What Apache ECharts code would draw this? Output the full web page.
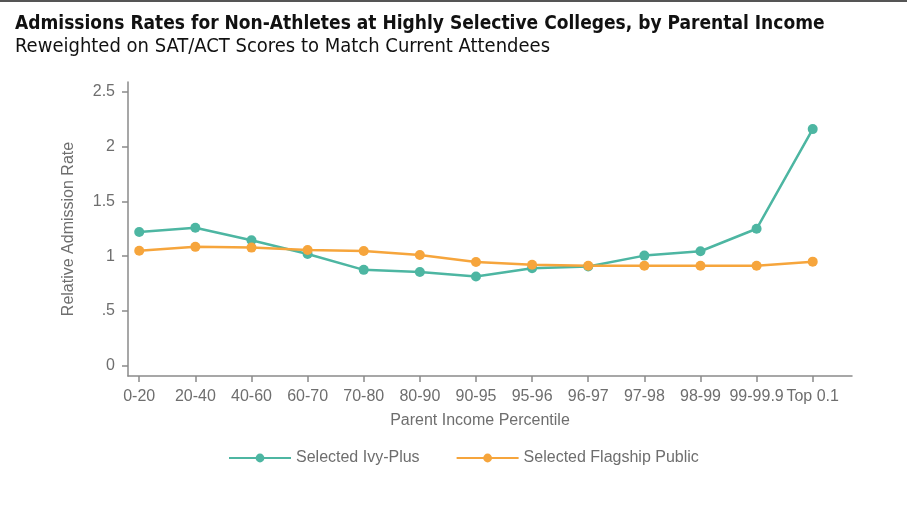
<!DOCTYPE html>
<html><head><meta charset="utf-8">
<script src="https://cdn.jsdelivr.net/npm/echarts@6/dist/echarts.min.js"></script>
<style>html,body{margin:0;padding:0;background:#fff}#c{width:907px;height:513px}</style>
</head><body><div id="c"></div>
<script>
const categories = ["0-20","20-40","40-60","60-70","70-80","80-90","90-95","95-96","96-97","97-98","98-99","99-99.9","Top 0.1"];
const ivyPlus = [1.22,1.26,1.145,1.02,0.875,0.855,0.815,0.89,0.905,1.005,1.045,1.25,2.16];
const flagship = [1.05,1.085,1.078,1.057,1.047,1.011,0.947,0.922,0.913,0.913,0.913,0.913,0.95];
const yTicks = [0,0.5,1,1.5,2,2.5];
const yTickLabels = ["0",".5","1","1.5","2","2.5"];

const teal = '#4db6a2', orange = '#f6a53c', grey = '#6e6e6e', axisGrey = '#8a8a8a';
const chart = echarts.init(document.getElementById('c'), null, {renderer:'canvas'});
const idx = categories.map((_, i) => i);
chart.setOption({
  animation:false,
  backgroundColor:'#fff',
  title:{
    left:10, top:10, itemGap:3,
    text:'Admissions Rates for Non-Athletes at Highly Selective Colleges, by Parental Income',
    subtext:'Reweighted on SAT/ACT Scores to Match Current Attendees',
    textStyle:{fontFamily:'DejaVu Sans Condensed', fontWeight:'bold', fontSize:19, color:'#111'},
    subtextStyle:{fontFamily:'DejaVu Sans Condensed', fontSize:20, color:'#111'}
  },
  graphic:[{type:'rect', shape:{x:0,y:0,width:907,height:2}, style:{fill:'#555'}}],
  grid:{left:128, right:55, top:82, bottom:137},
  legend:{
    top:445, left:223, itemWidth:62, itemHeight:11, itemGap:36,
    textStyle:{fontFamily:'Liberation Sans', fontSize:16, color:grey},
    data:['Selected Ivy-Plus','Selected Flagship Public']
  },
  xAxis:{
    type:'value', min:-0.2, max:12.7,
    name:'Parent Income Percentile', nameLocation:'middle', nameGap:37,
    nameTextStyle:{fontFamily:'Liberation Sans', fontSize:16, color:grey, padding:[0,20,0,0]},
    axisLine:{show:true, onZero:false, lineStyle:{color:axisGrey, width:1.5}},
    axisTick:{show:true, inside:false, customValues:idx, length:6, lineStyle:{color:axisGrey, width:1.5}},
    axisLabel:{customValues:idx, margin:13, fontFamily:'Liberation Sans', fontSize:16, color:grey,
      formatter:v => categories[Math.round(v)]},
    splitLine:{show:false}
  },
  yAxis:{
    type:'value', min:-0.094, max:2.59,
    name:'Relative Admission Rate', nameLocation:'middle', nameGap:51, nameRotate:90,
    nameTextStyle:{fontFamily:'Liberation Sans', fontSize:16, color:grey},
    axisLine:{show:true, onZero:false, lineStyle:{color:axisGrey, width:1.5}},
    axisTick:{show:true, inside:false, customValues:yTicks, length:6, lineStyle:{color:axisGrey, width:1.5}},
    axisLabel:{customValues:yTicks, margin:13, fontFamily:'Liberation Sans', fontSize:16, color:grey,
      formatter:v => yTickLabels[yTicks.indexOf(v)] ?? String(v)},
    splitLine:{show:false}
  },
  series:[
    {name:'Selected Ivy-Plus', type:'line', data:ivyPlus.map((v,i)=>[i,v]),
     symbol:'circle', symbolSize:10, lineStyle:{color:teal, width:2.5}, itemStyle:{color:teal}},
    {name:'Selected Flagship Public', type:'line', data:flagship.map((v,i)=>[i,v]),
     symbol:'circle', symbolSize:10, lineStyle:{color:orange, width:2.5}, itemStyle:{color:orange}}
  ]
});
</script></body></html>
